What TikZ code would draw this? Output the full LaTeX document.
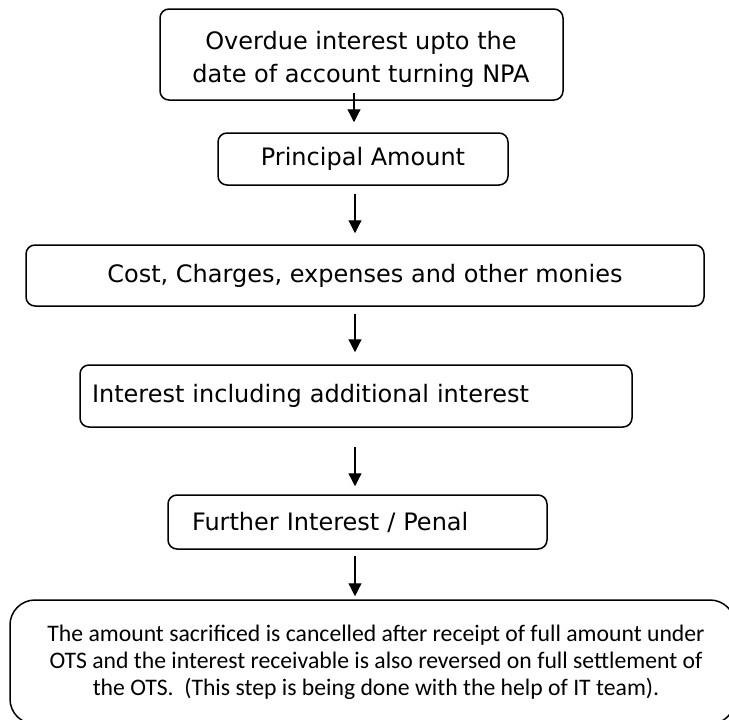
\documentclass[tikz,border=0pt]{standalone}
\usepackage{fontspec}
\setmainfont{DejaVu Sans}
\newfontfamily\notefont{Carlito}
\usetikzlibrary{arrows.meta}
\begin{document}
\begin{tikzpicture}[x=1pt,y=-1pt,
  stepbox/.style={draw, line width=1.5pt, rounded corners=9pt, inner sep=0pt,
    font=\fontsize{24}{33}\selectfont},
  flow/.style={line width=1.2pt, -{Triangle[length=13pt,width=13pt]}}
]
\useasboundingbox (0,0) rectangle (729,720);
\clip (0,0) rectangle (729,720);

% process boxes, top to bottom
\node[stepbox, minimum width=403pt, minimum height=91pt] (od) at (361.5,54.5) {};
\node[font=\fontsize{24}{33}\selectfont, align=center, inner sep=0pt] (odt) at (361,59)
  {Overdue interest upto the\\date of account turning NPA};
\node[stepbox, minimum width=290pt, minimum height=52pt] (pa) at (363,159) {Principal Amount};
\node[stepbox, minimum width=678pt, minimum height=61pt] (cost) at (365,275.5)
  {Cost, Charges, expenses and other monies};
\node[stepbox, minimum width=552pt, minimum height=62pt, inner xsep=12pt,
  text width=528pt, align=left] (int) at (356,396) {Interest including additional interest};
\node[stepbox, minimum width=379pt, minimum height=54pt, inner xsep=24pt,
  text width=331pt, align=left] (fur) at (357.5,522) {Further Interest / Penal};

% final note box, cut off by the right and bottom edges
\node[draw, line width=1.5pt, rounded corners=25pt, minimum width=725pt, minimum height=124pt]
  (bot) at (372.5,662) {};
\node[font=\notefont\fontsize{23.7}{27}\selectfont, align=center, inner sep=0pt] (bottxt) at (376,662)
  {The amount sacrificed is cancelled after receipt of full amount under\\
   OTS and the interest receivable is also reversed on full settlement of\\
   the OTS.\ \ (This step is being done with the help of IT team).};

% connectors
\coordinate (ax) at (355,0);
\path (od.south) ++(-7.5,-8) coordinate (a1s);
\draw[flow, shorten >=10pt] (a1s) -- (a1s |- pa.north);
\draw[flow, shorten <=8pt, shorten >=11pt] (ax |- pa.south) -- (ax |- cost.north);
\draw[flow, shorten <=7pt, shorten >=12pt] (ax |- cost.south) -- (ax |- int.north);
\draw[flow, shorten <=19pt, shorten >=8pt] (ax |- int.south) -- (ax |- fur.north);
\draw[flow, shorten <=6pt, shorten >=3pt] (ax |- fur.south) -- (ax |- bot.north);
\end{tikzpicture}
\end{document}
